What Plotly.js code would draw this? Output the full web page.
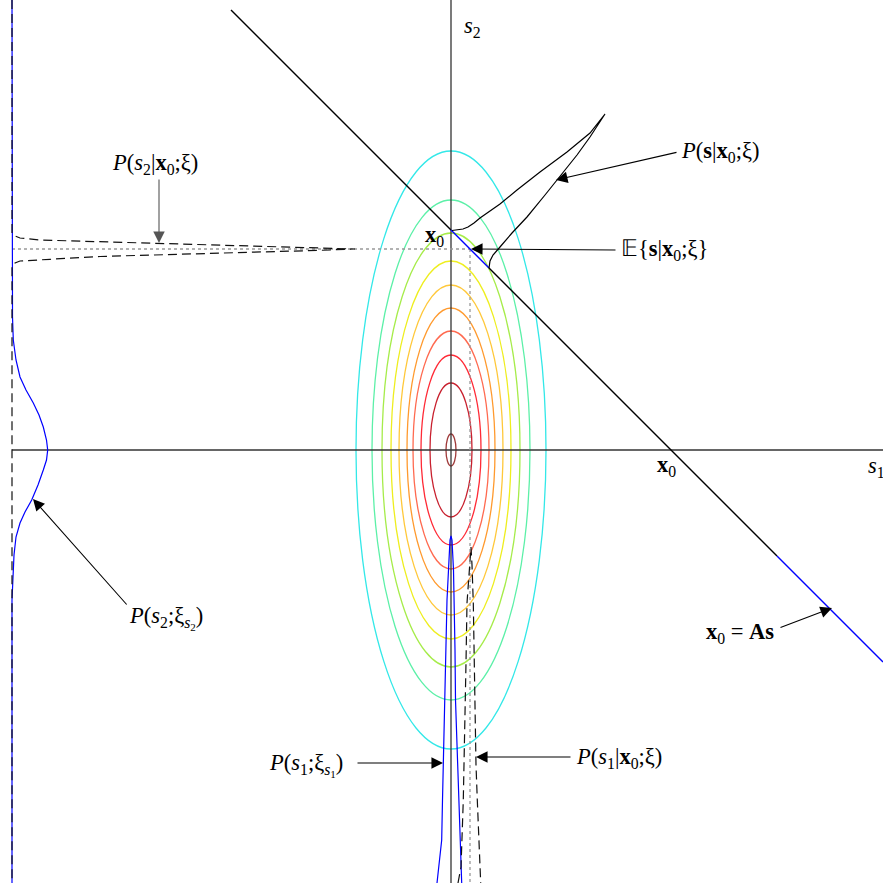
<!DOCTYPE html>
<html>
<head>
<meta charset="utf-8">
<script src="https://cdn.plot.ly/plotly-3.0.1.min.js"></script>
<style>html,body{margin:0;padding:0;background:#fff;}</style>
</head>
<body>
<div id="chart" style="width:883px;height:883px;"></div>
<script>
// ---- data (diagram units, origin at the s1/s2 axes crossing) ----
// contour ellipses of P(s; xi): half-widths along s1 and s2
var contourA = [95, 79, 69, 60, 52, 44, 38, 30, 21, 5];
var contourB = [299, 250, 217, 189, 165, 142, 119, 95, 67, 16];
var contourColors = ['#33e8e8', '#5cf0a8', '#a6ec4a', '#eeee1e', '#ffc83a', '#ff9a2e', '#ff6a50', '#ff2a36', '#c8202e', '#a03a3a'];

// constraint line x0 = A s
var lineTopX = [-220, 0],   lineTopY = [440, 220];
var lineSeg1X = [0, 38],    lineSeg1Y = [220, 182];
var lineMidX = [38, 326],   lineMidY = [182, -106];
var lineSeg2X = [326, 432], lineSeg2Y = [-106, -212];

// posterior P(s|x0;xi) drawn along the line
var postX = [1, 7, 12, 17, 23, 29, 49, 66, 89, 116, 139, 154, 147, 139, 126, 112, 94, 76, 61, 49, 42, 39, 38];
var postY = [219.5, 220, 221, 223, 227, 232, 246, 260, 278, 298, 317, 336, 325, 313, 295, 277, 255, 233, 217, 203, 195, 189, 182];

// prior marginal P(s2; xi_s2) on the left
var prior2X = [-439, -439, -438.5, -437.7, -435, -431, -425, -417.7, -412, -407.7, -404.5, -403.3, -404.5, -407.7, -413, -419.3, -426, -431, -435, -437, -438, -439, -439];
var prior2Y = [450, 150, 133, 110, 90, 73, 60, 47, 35, 23, 10, 0, -10, -20, -35, -50, -62, -73, -87, -105, -127, -150, -433];

// posterior marginal P(s2|x0;xi) on the left (dashed)
var post2X = [-439, -439, -436, -431, -411, -351, -291, -251, -191, -131, -96, -131, -191, -251, -291, -351, -401, -431, -436, -439, -439];
var post2Y = [450, 217, 214, 212, 210, 208.2, 206.7, 205.2, 203.7, 202.2, 201, 199.7, 198.2, 196.7, 195.7, 193.5, 190.7, 189, 187, 184, -433];

// prior marginal P(s1; xi_s1) at the bottom
var prior1X = [-14, -12, -9.3, -8.5, -7.5, -6.7, -5.5, -4, -2.5, -1, 0, 1, 2.5, 3.3, 4, 4.5, 6, 7.5, 9, 10, 10.7];
var prior1Y = [-433, -412, -390, -350, -300, -250, -200, -150, -120, -90, -86, -90, -120, -150, -200, -250, -300, -350, -390, -412, -433];

// posterior marginal P(s1|x0;xi) at the bottom (dashed)
var post1X = [7, 10, 12.3, 14, 15, 16, 18, 20, 21, 22.3, 23.3, 24, 25, 26.3, 29, 29.7];
var post1Y = [-433, -417, -350, -277, -213, -153, -120, -97, -115, -153, -213, -277, -315, -350, -417, -433];

// posterior mean E{s|x0;xi}
var meanX = [19], meanY = [201];

// axes
var s1AxisX = [-439, 432], s1AxisY = [0, 0];
var s2AxisX = [0, 0],      s2AxisY = [-433, 450];

// ---- traces ----
function ln(x, y, color, width, dash) {
  return {x: x, y: y, type: 'scatter', mode: 'lines', hoverinfo: 'skip',
          line: {color: color, width: width, dash: dash || 'solid'}};
}
var traces = [
  ln(s1AxisX, s1AxisY, '#333333', 1.3),
  ln(s2AxisX, s2AxisY, '#333333', 1.3),
  ln([prior2X[0], meanX[0]], [meanY[0], meanY[0]], '#999999', 1.3, 'dot'),
  ln([meanX[0], meanX[0]], [meanY[0], -433], '#999999', 1.3, 'dot'),
  ln(prior2X, prior2Y, '#0000ff', 1.2),
  ln(post2X, post2Y, '#111111', 1.2, '9px,5px'),
  ln(prior1X, prior1Y, '#0000ff', 1.2),
  ln(post1X, post1Y, '#111111', 1.2, '9px,5px'),
  ln(lineTopX, lineTopY, '#000000', 1.4),
  ln(lineSeg1X, lineSeg1Y, '#0000ff', 1.4),
  ln(lineMidX, lineMidY, '#000000', 1.4),
  ln(lineSeg2X, lineSeg2Y, '#0000ff', 1.4),
  ln(postX, postY, '#000000', 1.2)
];

var shapes = contourA.map(function (a, i) {
  return {type: 'circle', xref: 'x', yref: 'y', layer: 'below',
          x0: -a, x1: a, y0: -contourB[i], y1: contourB[i],
          line: {color: contourColors[i], width: 1.3}};
});

var F = {family: 'Liberation Serif, Times New Roman, serif', size: 22.5, color: '#000'};
function lbl(x, y, text, xa) {
  return {x: x, y: y, xref: 'x', yref: 'y', text: text, showarrow: false,
          xanchor: xa || 'left', yanchor: 'middle', font: F};
}
function arr(tx, ty, hx, hy, color) {
  return {x: hx, y: hy, ax: tx, ay: ty, xref: 'x', yref: 'y', axref: 'x', ayref: 'y',
          text: '', showarrow: true, arrowhead: 2, arrowsize: 2.1, arrowwidth: 1.1,
          arrowcolor: color || '#000', standoff: 0, startstandoff: 0};
}
var annotations = [
  arr(227, 298, 105, 270),
  arr(166, 200, 20, 201),
  arr(-292, 272, -292, 207, '#555'),
  arr(-323, -156, -418, -49),
  arr(-95, -313, -8, -313),
  arr(121, -307, 25, -307),
  arr(328, -178, 381, -158),
  lbl(228, 298, '<i>P</i>(<b>s</b>|<b>x</b><sub>0</sub>;ξ)'),
  lbl(168, 200, '𝔼{<b>s</b>|<b>x</b><sub>0</sub>;ξ}'),
  lbl(-296, 286, '<i>P</i>(<i>s</i><sub>2</sub>|<b>x</b><sub>0</sub>;ξ)', 'center'),
  lbl(-324, -168, '<i>P</i>(<i>s</i><sub>2</sub>;ξ<sub><i>s</i><sub>2</sub></sub>)'),
  lbl(-106, -315, '<i>P</i>(<i>s</i><sub>1</sub>;ξ<sub><i>s</i><sub>1</sub></sub>)', 'right'),
  lbl(123, -308, '<i>P</i>(<i>s</i><sub>1</sub>|<b>x</b><sub>0</sub>;ξ)'),
  lbl(253, -183, '<b>x</b><sub>0</sub> = <b>As</b>'),
  lbl(11, 423, '<i>s</i><sub>2</sub>'),
  lbl(415, -17, '<i>s</i><sub>1</sub>'),
  lbl(-5, 214, '<b>x</b><sub>0</sub>', 'right'),
  lbl(204, -16, '<b>x</b><sub>0</sub>')
];

var layout = {
  width: 883, height: 883,
  margin: {l: 0, r: 0, t: 0, b: 0, pad: 0},
  paper_bgcolor: '#ffffff', plot_bgcolor: '#ffffff',
  showlegend: false,
  xaxis: {range: [-451, 432], visible: false, fixedrange: true},
  yaxis: {range: [-433, 450], visible: false, fixedrange: true},
  shapes: shapes,
  annotations: annotations
};
Plotly.newPlot('chart', traces, layout, {staticPlot: true, displayModeBar: false});
</script>
</body>
</html>
